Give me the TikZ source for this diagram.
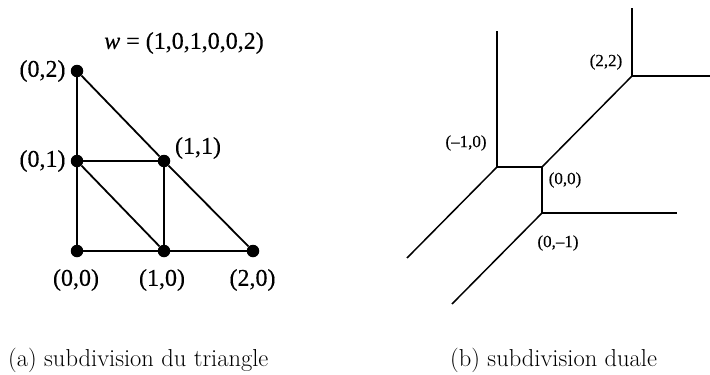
\documentclass[tikz,border=0pt]{standalone}
\usepackage{fontspec}
\newfontfamily\labfont[FakeBold=0.4]{Liberation Serif}
\newfontfamily\smlabfont[FakeBold=0.2]{Liberation Serif}
\begin{document}
\begin{tikzpicture}[x=1pt,y=-1pt,
  edge/.style={line width=1.8pt},
  dualedge/.style={line width=1.5pt},
  dot/.style={circle,fill=black,inner sep=0pt,minimum size=12.5pt},
  biglab/.style={font=\labfont\fontsize{24}{28}\selectfont, inner sep=0pt},
  smalllab/.style={font=\smlabfont\fontsize{17}{20}\selectfont, inner sep=0pt},
  captext/.style={font=\fontsize{24.5}{29}\selectfont, inner sep=0pt, anchor=base west}]
\useasboundingbox (0,0) rectangle (710,375);
% (a) triangle subdivision
\node[dot] (p02) at (77,71) {};
\node[dot] (p01) at (77,161) {};
\node[dot] (p11) at (164,161) {};
\node[dot] (p00) at (77,251) {};
\node[dot] (p10) at (164,251) {};
\node[dot] (p20) at (253,251) {};
\draw[edge] (p02) -- (p01);
\draw[edge] (p01) -- (p00);
\draw[edge] (p00) -- (p10);
\draw[edge] (p10) -- (p20);
\draw[edge] (p20) -- (p11);
\draw[edge] (p11) -- (p02);
\draw[edge] (p01) -- (p11);
\draw[edge] (p11) -- (p10);
\draw[edge] (p01) -- (p10);
\node[biglab] (l02) at (42.5,71) {(0,2)};
\node[biglab] (l01) at (42.5,161) {(0,1)};
\node[biglab] (l11) at (198,148) {(1,1)};
\node[biglab] (l00) at (76,280) {(0,0)};
\node[biglab] (l10) at (162,280) {(1,0)};
\node[biglab] (l20) at (252.5,280) {(2,0)};
\node[biglab] (wlab) at (184,43) {\itshape w\upshape\ = (1,0,1,0,0,2)};
% (b) dual subdivision
\coordinate (A) at (497,167);
\coordinate (B) at (542,167);
\coordinate (C) at (632,76);
\coordinate (D) at (542,213);
\coordinate (a1) at (497,31);
\coordinate (a2) at (407,258);
\coordinate (c1) at (632,8);
\coordinate (c2) at (710,76);
\coordinate (d1) at (677,213);
\coordinate (d2) at (452,304);
\draw[dualedge] (a1) -- (A);
\draw[dualedge] (A) -- (B);
\draw[dualedge] (A) -- (a2);
\draw[dualedge] (B) -- (C);
\draw[dualedge] (B) -- (D);
\draw[dualedge] (C) -- (c1);
\draw[dualedge] (C) -- (c2);
\draw[dualedge] (D) -- (d1);
\draw[dualedge] (D) -- (d2);
\node[smalllab] (m22) at (606,62) {(2,2)};
\node[smalllab] (mm10) at (466,143) {(–1,0)};
\node[smalllab] (m00) at (565,180) {(0,0)};
\node[smalllab] (m0m1) at (558,243) {(0,–1)};
% captions
\node[captext] (capa) at (8,366) {(a) subdivision du triangle};
\node[captext] (capb) at (450,366) {(b) subdivision duale};
\end{tikzpicture}
\end{document}
